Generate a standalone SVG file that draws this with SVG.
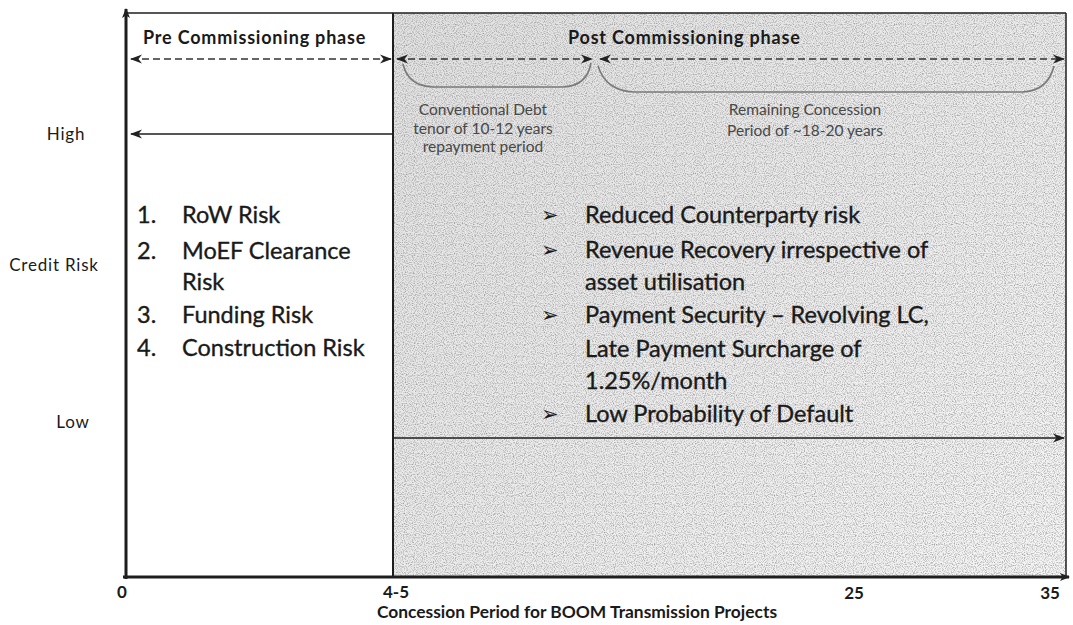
<svg xmlns="http://www.w3.org/2000/svg" width="1073" height="625" viewBox="0 0 1073 625">
<style>
.t{font-family:Lato,"Liberation Sans",sans-serif;fill:#1a1a1a}
.ax{font-size:17px;letter-spacing:0.8px}
.list{font-size:23.5px;stroke:#1a1a1a;stroke-width:0.35px}
.hd{font-size:18px;font-weight:bold;letter-spacing:0.8px}
.br{font-size:15.5px;fill:#484848}
.num{font-size:17px;font-weight:bold}
.ttl{font-size:17.4px;font-weight:bold}
.bul{font-family:"DejaVu Sans",sans-serif;font-size:21px;fill:#1a1a1a}
.frame{stroke:#1e1e1e;fill:none}
.dash{stroke:#333;stroke-width:1.6;stroke-dasharray:7 4;fill:none}
.brace{stroke:#7a7a7a;stroke-width:1.6;fill:none}
</style>
<defs>
<linearGradient id="grey" x1="0" y1="0" x2="1" y2="1">
<stop offset="0" stop-color="#e2e2e2"/>
<stop offset="1" stop-color="#f6f6f6"/>
</linearGradient>
<filter id="grain" x="0" y="0" width="100%" height="100%">
<feTurbulence type="fractalNoise" baseFrequency="0.9" numOctaves="1" seed="7" result="n"/>
<feColorMatrix in="n" type="matrix" values="0 0 0 0 0.3  0 0 0 0 0.3  0 0 0 0 0.3  2.4 0 0 0 -1.05"/>
</filter>
<marker id="ah" viewBox="0 0 12 10" refX="11" refY="5" markerWidth="12" markerHeight="10" markerUnits="userSpaceOnUse" orient="auto-start-reverse">
<path d="M0,0.5 L12,5 L0,9.5 L3.5,5 Z" fill="#222"/>
</marker>
<marker id="axh" viewBox="0 0 10 10" refX="9" refY="5" markerWidth="10" markerHeight="10" markerUnits="userSpaceOnUse" orient="auto">
<path d="M0,1 L10,5 L0,9 L2.5,5 Z" fill="#222"/>
</marker>
</defs>
<rect width="1073" height="625" fill="#fff"/>
<g id="post-region">
<rect x="393" y="13" width="673" height="564" fill="url(#grey)"/>
<rect x="393" y="13" width="673" height="564" fill="#000" filter="url(#grain)"/>
</g>
<g id="frame">
<line class="frame" x1="126" y1="13" x2="1066" y2="13" stroke-width="1.5"/>
<line class="frame" x1="1066" y1="13" x2="1066" y2="577" stroke-width="1.5"/>
<line class="frame" x1="393" y1="13" x2="393" y2="577" stroke-width="2"/>
</g>
<g id="connectors">
<line class="frame" x1="126" y1="579" x2="126" y2="9" stroke-width="3" marker-end="url(#axh)"/>
<line class="frame" x1="123" y1="577" x2="1069" y2="577" stroke-width="3" marker-end="url(#axh)"/>
<line class="dash" x1="131" y1="59" x2="391" y2="59" marker-start="url(#ah)" marker-end="url(#ah)"/>
<line class="dash" x1="397" y1="59" x2="592" y2="59" marker-start="url(#ah)" marker-end="url(#ah)"/>
<line class="dash" x1="600" y1="59" x2="1064" y2="59" marker-start="url(#ah)" marker-end="url(#ah)"/>
<path class="brace" d="M403,64 Q408,86 433,87 L563,87 Q587,86 591,63"/>
<path class="brace" d="M598,66 Q606,91 634,92 L1022,92 Q1048,91 1054,66"/>
<line class="frame" x1="392" y1="134" x2="131" y2="134" stroke-width="1.6" marker-end="url(#ah)"/>
<line class="frame" x1="394" y1="438" x2="1064" y2="438" stroke-width="1.6" marker-end="url(#ah)"/>
</g>
<g id="y-labels">
<text class="t ax" x="66" y="140" text-anchor="middle">High</text>
<text class="t ax" x="54" y="271" text-anchor="middle">Credit Risk</text>
<text class="t ax" x="73" y="428" text-anchor="middle">Low</text>
</g>
<g id="pre-phase">
<text class="t hd" x="143" y="44">Pre Commissioning phase</text>
<text class="t list" x="137" y="223">1.</text>
<text class="t list" x="182" y="223">RoW Risk</text>
<text class="t list" x="137" y="259">2.</text>
<text class="t list" x="182" y="259">MoEF Clearance</text>
<text class="t list" x="182" y="290">Risk</text>
<text class="t list" x="137" y="323">3.</text>
<text class="t list" x="182" y="323">Funding Risk</text>
<text class="t list" x="137" y="356">4.</text>
<text class="t list" x="182" y="356">Construction Risk</text>
</g>
<g id="post-phase">
<text class="t hd" x="568" y="44">Post Commissioning phase</text>
<text class="bul" x="541" y="222">➢</text>
<text class="t list" x="585" y="223">Reduced Counterparty risk</text>
<text class="bul" x="541" y="257">➢</text>
<text class="t list" x="585" y="258">Revenue Recovery irrespective of</text>
<text class="t list" x="585" y="290">asset utilisation</text>
<text class="bul" x="541" y="322">➢</text>
<text class="t list" x="585" y="323">Payment Security – Revolving LC,</text>
<text class="t list" x="585" y="357">Late Payment Surcharge of</text>
<text class="t list" x="585" y="389">1.25%/month</text>
<text class="bul" x="541" y="421">➢</text>
<text class="t list" x="585" y="422">Low Probability of Default</text>
</g>
<g id="debt-tenor">
<text class="t br" x="483" y="115" text-anchor="middle">Conventional Debt</text>
<text class="t br" x="483" y="134" text-anchor="middle">tenor of 10-12 years</text>
<text class="t br" x="483" y="152" text-anchor="middle">repayment period</text>
</g>
<g id="remaining-concession">
<text class="t br" x="805" y="115" text-anchor="middle">Remaining Concession</text>
<text class="t br" x="805" y="136" text-anchor="middle">Period of ~18-20 years</text>
</g>
<g id="x-labels">
<text class="t num" x="122" y="598" text-anchor="middle">0</text>
<text class="t num" x="396" y="598" text-anchor="middle">4-5</text>
<text class="t num" x="854" y="599" text-anchor="middle">25</text>
<text class="t num" x="1050" y="599" text-anchor="middle">35</text>
<text class="t ttl" x="577" y="618" text-anchor="middle">Concession Period for BOOM Transmission Projects</text>
</g>
</svg>
